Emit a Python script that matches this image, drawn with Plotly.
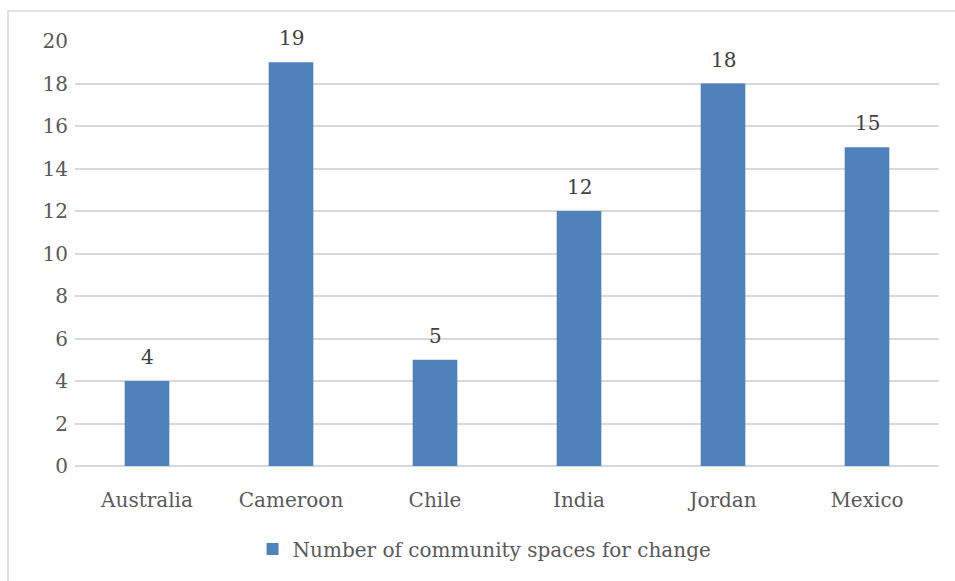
import plotly.graph_objects as go

countries = ["Australia", "Cameroon", "Chile", "India", "Jordan", "Mexico"]
spaces = [4, 19, 5, 12, 18, 15]
y_ticks = [0, 2, 4, 6, 8, 10, 12, 14, 16, 18, 20]

W, H = 955, 581
ML, MR, MT, MB = 75, 16, 41, 115
FONT = "DejaVu Serif"
FS = 20

fig = go.Figure()
fig.add_trace(go.Bar(
    x=countries,
    y=spaces,
    name="Number of community spaces for change",
    marker=dict(color="#4F81BD", line=dict(width=0)),
))

# value labels above each bar
for c, v in zip(countries, spaces):
    fig.add_annotation(x=c, y=v, text=str(v), showarrow=False,
                       yanchor="bottom", yshift=10,
                       font=dict(family=FONT, size=FS, color="#404040"))

# outer chart frame (left and top edges fall inside the page)
pw = W - ML - MR
ph = H - MT - MB
fig.add_shape(type="rect", xref="paper", yref="paper",
              x0=(8 - ML) / pw, x1=(W + 5 - ML) / pw,
              y0=(H - MB - (H + 5)) / ph, y1=(H - MB - 11) / ph,
              line=dict(color="#d9d9d9", width=1.5), fillcolor="rgba(0,0,0,0)",
              layer="below")

fig.update_layout(
    width=W, height=H,
    margin=dict(l=ML, r=MR, t=MT, b=MB),
    paper_bgcolor="white", plot_bgcolor="white",
    bargap=0.69,
    font=dict(family=FONT, size=FS, color="#595959"),
    showlegend=True,
    legend=dict(orientation="h", x=0.474, xanchor="center", y=-0.195, yanchor="middle",
                font=dict(family=FONT, size=FS, color="#595959"),
                itemwidth=30),
    xaxis=dict(showgrid=False, showline=False, ticks="", ticklabelstandoff=20,
               tickfont=dict(size=FS, color="#595959")),
    yaxis=dict(range=[0, 20], tickvals=y_ticks, showgrid=True, gridcolor="#d9d9d9", gridwidth=1.5,
               zeroline=True, zerolinecolor="#d9d9d9", zerolinewidth=1.5,
               showline=False, ticks="", ticklabelstandoff=6,
               tickfont=dict(size=FS, color="#595959")),
)

fig.write_html("out.html")
